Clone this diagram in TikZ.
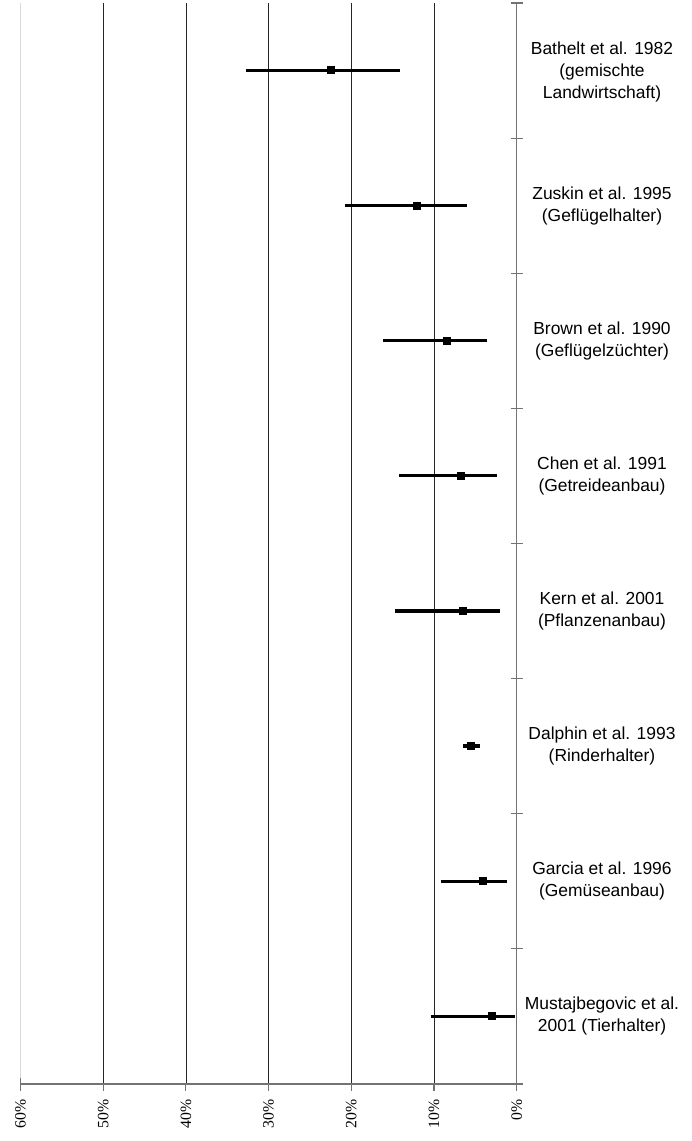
\documentclass[tikz,border=0pt]{standalone}
\usepackage{fontspec}
\setmainfont{Liberation Serif}
\newfontfamily\studyfont{Liberation Sans}

\begin{document}
\begin{tikzpicture}[x=0.025cm, y=-0.025cm,
  grid/.style={black!85, line width=0.5pt},
  axis/.style={black!55, line width=0.8pt},
  bar/.style={black, line width=2.4pt},
  marker/.style={rectangle, fill=black, inner sep=0pt, minimum size=0.2cm},
  study/.style={align=center, font=\studyfont\fontsize{12.4}{15.6}\selectfont},
  pct/.style={rotate=90, anchor=east, inner sep=0pt, font=\fontsize{11.2}{13}\selectfont}]
  \useasboundingbox (0,0) rectangle (691,1141);

  % Grid lines
  \draw[black!15, line width=0.6pt] (20.5,3) -- (20.5,1084);
  \draw[grid] (103.2,3) -- (103.2,1084);
  \draw[grid] (185.9,3) -- (185.9,1084);
  \draw[grid] (268.6,3) -- (268.6,1084);
  \draw[grid] (351.3,3) -- (351.3,1084);
  \draw[grid] (434.0,3) -- (434.0,1084);

  % Axes
  \draw[axis] (20.5,1084) -- (516.7,1084);
  \draw[axis] (516.7,3) -- (516.7,1084);
  \draw[axis] (20.5,1078) -- (20.5,1091);
  \draw[axis] (103.2,1084) -- (103.2,1091);
  \draw[axis] (185.9,1084) -- (185.9,1091);
  \draw[axis] (268.6,1084) -- (268.6,1091);
  \draw[axis] (351.3,1084) -- (351.3,1091);
  \draw[axis] (434.0,1084) -- (434.0,1091);
  \draw[axis] (516.7,1084) -- (516.7,1091);
  \draw[axis] (511,3) -- (522.5,3);
  \draw[axis] (511,138.1) -- (522.5,138.1);
  \draw[axis] (511,273.2) -- (522.5,273.2);
  \draw[axis] (511,408.4) -- (522.5,408.4);
  \draw[axis] (511,543.5) -- (522.5,543.5);
  \draw[axis] (511,678.6) -- (522.5,678.6);
  \draw[axis] (511,813.8) -- (522.5,813.8);
  \draw[axis] (511,948.9) -- (522.5,948.9);
  \draw[axis] (511,1084) -- (522.5,1084);

  % Tick labels
  \node[pct] (p60) at (20.5,1099) {60\%};
  \node[pct] (p50) at (103.2,1099) {50\%};
  \node[pct] (p40) at (185.9,1099) {40\%};
  \node[pct] (p30) at (268.6,1099) {30\%};
  \node[pct] (p20) at (351.3,1099) {20\%};
  \node[pct] (p10) at (434.0,1099) {10\%};
  \node[pct] (p0) at (516.7,1099) {0\%};

  % Error bars
  \draw[bar] (246,70.5) -- (400,70.5);
  \draw[bar] (345,205.6) -- (467,205.6);
  \draw[bar] (383,340.7) -- (487,340.7);
  \draw[bar] (399,475.8) -- (497,475.8);
  \draw[bar] (395,610.9) -- (500,610.9);
  \draw[bar] (463,746.1) -- (480,746.1);
  \draw[bar] (440.7,881.2) -- (507,881.2);
  \draw[bar] (430.7,1016.3) -- (515,1016.3);

  % Point estimates
  \node[marker] (mBathelt) at (330.7,70.5) {};
  \node[marker] (mZuskin) at (416.7,205.6) {};
  \node[marker] (mBrown) at (446.7,340.7) {};
  \node[marker] (mChen) at (461,475.8) {};
  \node[marker] (mKern) at (462.7,610.9) {};
  \node[marker] (mDalphin) at (471,746.1) {};
  \node[marker] (mGarcia) at (483,881.2) {};
  \node[marker] (mMustaj) at (492,1016.3) {};

  % Studies
  \node[study] (Bathelt) at (602,72) {Bathelt et al. 1982\\(gemischte\\Landwirtschaft)};
  \node[study] (Zuskin) at (602,205.6) {Zuskin et al. 1995\\(Geflügelhalter)};
  \node[study] (Brown) at (602,340.7) {Brown et al. 1990\\(Geflügelzüchter)};
  \node[study] (Chen) at (602,475.8) {Chen et al. 1991\\(Getreideanbau)};
  \node[study] (Kern) at (602,610.9) {Kern et al. 2001\\(Pflanzenanbau)};
  \node[study] (Dalphin) at (602,746.1) {Dalphin et al. 1993\\(Rinderhalter)};
  \node[study] (Garcia) at (602,881.2) {Garcia et al. 1996\\(Gemüseanbau)};
  \node[study] (Mustaj) at (602,1016.3) {Mustajbegovic et al.\\2001 (Tierhalter)};
\end{tikzpicture}
\end{document}
